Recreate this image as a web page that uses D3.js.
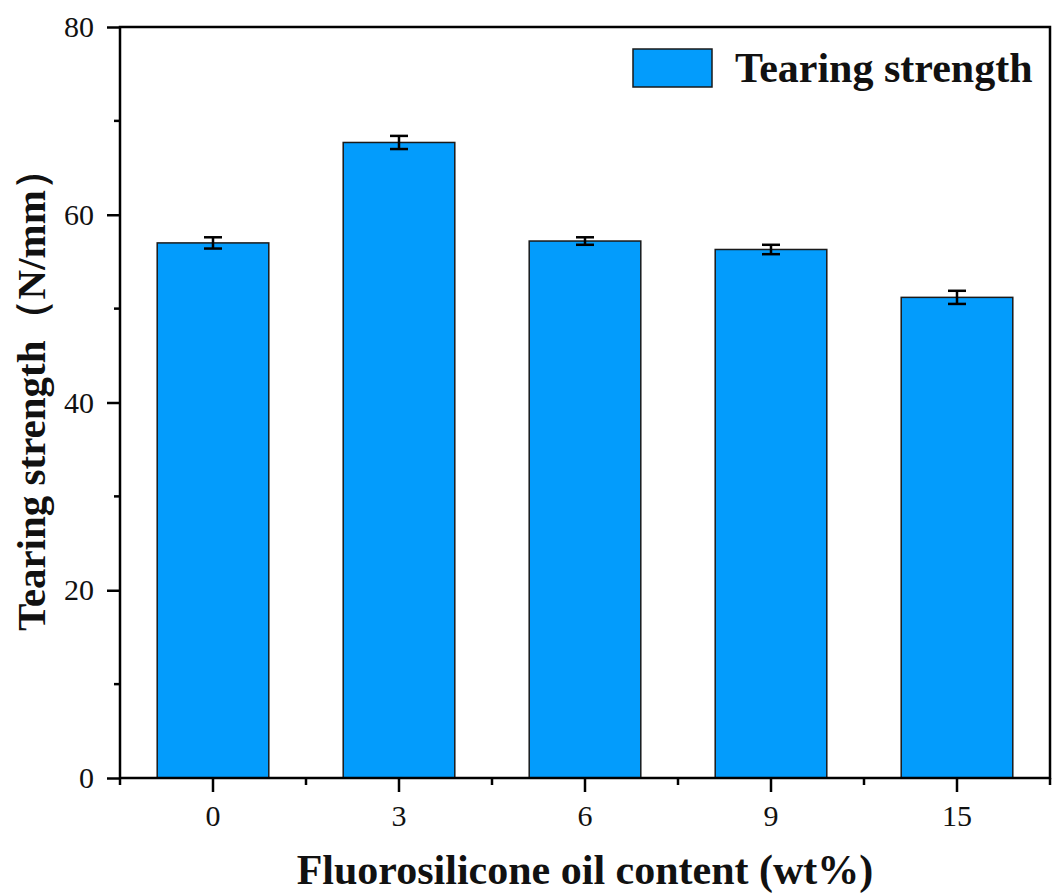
<!DOCTYPE html>
<html>
<head>
<meta charset="utf-8">
<script src="https://cdn.jsdelivr.net/npm/d3@7"></script>
<style>
html,body{margin:0;padding:0;background:#fff;}
svg{display:block;}
</style>
</head>
<body>
<svg id="chart" width="1052" height="896"></svg>
<script>
const categories = ["0", "3", "6", "9", "15"];
const values = [57.0, 67.7, 57.2, 56.3, 51.2];
const errors = [0.6, 0.7, 0.4, 0.5, 0.7];
const yTicks = [0, 20, 40, 60, 80];
const yMinorTicks = [10, 30, 50, 70];
const xTitle = "Fluorosilicone oil content (wt%)";
const yTitle = "Tearing strength（N/mm）";
const legendLabel = "Tearing strength";

const svg = d3.select("#chart");
const L = 120, R = 1050, T = 27, B = 778;
const barColor = "#039cfc";
const serif = "'Liberation Serif','Times New Roman',serif";

const x = d3.scaleBand().domain(categories).range([L, R]).paddingInner(0.4).paddingOuter(0.2);
const y = d3.scaleLinear().domain([0, 80]).range([B, T]);

// bars
svg.append("g").selectAll("rect").data(categories).join("rect")
  .attr("x", d => x(d)).attr("width", x.bandwidth())
  .attr("y", (d, i) => y(values[i])).attr("height", (d, i) => y(0) - y(values[i]))
  .attr("fill", barColor).attr("stroke", "#1a1a1a").attr("stroke-width", 1.5);

// error bars
const eg = svg.append("g").attr("stroke", "#000").attr("stroke-width", 2.5);
categories.forEach((c, i) => {
  const cx = x(c) + x.bandwidth() / 2;
  const hi = y(values[i] + errors[i]), lo = y(values[i] - errors[i]);
  eg.append("line").attr("x1", cx).attr("x2", cx).attr("y1", hi).attr("y2", lo);
  eg.append("line").attr("x1", cx - 9).attr("x2", cx + 9).attr("y1", hi).attr("y2", hi);
  eg.append("line").attr("x1", cx - 9).attr("x2", cx + 9).attr("y1", lo).attr("y2", lo);
});

// frame
svg.append("rect").attr("x", L).attr("y", T).attr("width", R - L).attr("height", B - T)
  .attr("fill", "none").attr("stroke", "#000").attr("stroke-width", 2.5);

// y axis
const yAxis = d3.axisLeft(y).tickValues(yTicks).tickSize(13).tickPadding(13).tickFormat(d3.format("d"));
const gy = svg.append("g").attr("transform", `translate(${L},0)`).call(yAxis);
gy.select(".domain").remove();
gy.selectAll(".tick line").attr("stroke-width", 2.5);
gy.selectAll(".tick text").attr("font-family", serif).attr("font-size", 30).attr("fill", "#111");
svg.append("g").selectAll("line").data(yMinorTicks).join("line")
  .attr("x1", L - 6).attr("x2", L).attr("y1", d => y(d)).attr("y2", d => y(d))
  .attr("stroke", "#000").attr("stroke-width", 2.5);

// x axis
const xAxis = d3.axisBottom(x).tickSize(14).tickPadding(13);
const gx = svg.append("g").attr("transform", `translate(0,${B})`).call(xAxis);
gx.select(".domain").remove();
gx.selectAll(".tick line").attr("stroke-width", 2.5);
gx.selectAll(".tick text").attr("font-family", serif).attr("font-size", 30).attr("fill", "#111");
const minorX = categories.map(c => x(c) - x.step() * 0.2).concat([x(categories[categories.length - 1]) + x.bandwidth() + x.step() * 0.2]);
svg.append("g").selectAll("line").data(minorX).join("line")
  .attr("x1", d => d).attr("x2", d => d).attr("y1", B).attr("y2", B + 7)
  .attr("stroke", "#000").attr("stroke-width", 2.5);

// axis titles
svg.append("text").attr("x", (L + R) / 2).attr("y", 884).attr("text-anchor", "middle")
  .attr("font-family", serif).attr("font-weight", "bold").attr("font-size", 42).attr("fill", "#111")
  .text(xTitle);
svg.append("text").attr("transform", `translate(45,390) rotate(-90)`).attr("text-anchor", "middle")
  .attr("font-family", serif).attr("font-weight", "bold").attr("font-size", 41).attr("fill", "#111")
  .text(yTitle);

// legend
const lg = svg.append("g");
lg.append("rect").attr("x", 633).attr("y", 49).attr("width", 79).attr("height", 38)
  .attr("fill", barColor).attr("stroke", "#1a1a1a").attr("stroke-width", 1.5);
lg.append("text").attr("x", 735).attr("y", 82).attr("font-family", serif).attr("font-weight", "bold")
  .attr("font-size", 42).attr("fill", "#111").text(legendLabel);
</script>
</body>
</html>
